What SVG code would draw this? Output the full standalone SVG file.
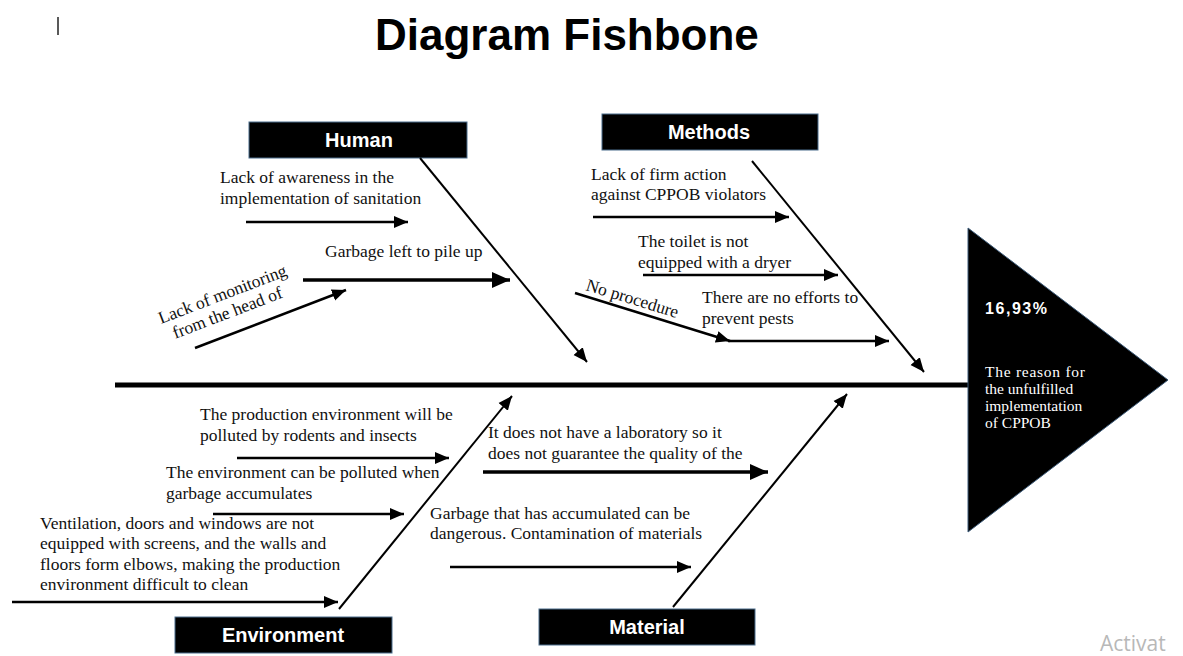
<svg xmlns="http://www.w3.org/2000/svg" width="1183" height="656" viewBox="0 0 1183 656">
<style>
.t{font-family:"Liberation Serif","Times New Roman",serif;font-size:17.5px;fill:#111}
.lbl{font-family:"Liberation Sans",Arial,sans-serif;font-weight:bold;font-size:20px;fill:#fff;text-anchor:middle}
.box{fill:#000;stroke:#4a6d8c;stroke-width:1}
.bone{stroke:#000;stroke-width:2;fill:none;marker-end:url(#ah)}
.sub{stroke:#000;stroke-width:2.5;fill:none;marker-end:url(#ah)}
.thick{stroke:#000;stroke-width:3.5;fill:none;marker-end:url(#ahb)}
.w{font-family:"Liberation Serif","Times New Roman",serif;font-size:15.5px;fill:#fff}
</style>
<defs>
<marker id="ah" markerUnits="userSpaceOnUse" markerWidth="16" markerHeight="14" refX="14" refY="7" orient="auto"><path d="M0,1 L14,7 L0,13 z" fill="#000"/></marker>
<marker id="ahb" markerUnits="userSpaceOnUse" markerWidth="20" markerHeight="18" refX="18" refY="9" orient="auto"><path d="M0,1 L18,9 L0,17 z" fill="#000"/></marker>
</defs>
<rect width="1183" height="656" fill="#fff"/>
<line x1="58" y1="17" x2="58" y2="35" stroke="#222" stroke-width="1.5"/>
<text x="375" y="50" font-family="Liberation Sans,Arial,sans-serif" font-weight="bold" font-size="44" fill="#000">Diagram Fishbone</text>

<g id="spine"><line x1="115" y1="385" x2="969" y2="385" stroke="#000" stroke-width="5"/></g>

<g id="effect">
<polygon points="968,228 1168,380 968,532" fill="#000" stroke="#3c5a78" stroke-width="1"/>
<text x="985" y="314" font-family="Liberation Sans,Arial,sans-serif" font-weight="bold" font-size="16" fill="#fff" textLength="62">16,93%</text>
<text class="w" x="985" y="377" textLength="100">The reason for</text>
<text class="w" x="985" y="394">the unfulfilled</text>
<text class="w" x="985" y="411">implementation</text>
<text class="w" x="985" y="428">of CPPOB</text>
</g>

<g id="human">
<rect class="box" x="249" y="122" width="218" height="36"/>
<text class="lbl" x="359" y="147">Human</text>
</g>
<g id="methods">
<rect class="box" x="602" y="114" width="216" height="36"/>
<text class="lbl" x="709" y="139">Methods</text>
</g>
<g id="environment">
<rect class="box" x="175" y="617" width="217" height="36"/>
<text class="lbl" x="283" y="642">Environment</text>
</g>
<g id="material">
<rect class="box" x="539" y="609" width="216" height="36"/>
<text class="lbl" x="647" y="634">Material</text>
</g>

<g id="connectors">
<line class="bone" x1="420" y1="158" x2="587" y2="362"/>
<line class="bone" x1="752" y1="161" x2="924" y2="372"/>
<line class="bone" x1="339" y1="609" x2="512" y2="396"/>
<line class="bone" x1="673" y1="607" x2="847" y2="394"/>

<line class="sub" x1="246" y1="222" x2="408" y2="222"/>
<line class="thick" x1="303" y1="280" x2="510" y2="280"/>
<line class="sub" x1="195" y1="348" x2="346" y2="290"/>

<line class="sub" x1="593" y1="217" x2="789" y2="217"/>
<line class="sub" x1="643" y1="275" x2="838" y2="275"/>
<line class="sub" x1="575" y1="293" x2="730" y2="341"/>
<line class="sub" x1="728" y1="341" x2="889" y2="341"/>

<line class="sub" x1="237" y1="458" x2="449" y2="458"/>
<line class="sub" x1="213" y1="514" x2="404" y2="514"/>
<line class="sub" x1="12" y1="602" x2="338" y2="602"/>

<line class="thick" x1="483" y1="472" x2="768" y2="472"/>
<line class="sub" x1="450" y1="567" x2="691" y2="567"/>
</g>

<g id="causes">
<text class="t" x="220" y="183">Lack of awareness in the</text>
<text class="t" x="220" y="204">implementation of sanitation</text>
<text class="t" x="325" y="257">Garbage left to pile up</text>
<g transform="translate(161,324) rotate(-21)"><text class="t" x="0" y="0">Lack of monitoring</text><text class="t" x="8" y="19">from the head of</text></g>

<text class="t" x="591" y="180">Lack of firm action</text>
<text class="t" x="591" y="200">against CPPOB violators</text>
<text class="t" x="638" y="247">The toilet is not</text>
<text class="t" x="638" y="268">equipped with a dryer</text>
<g transform="translate(585,290) rotate(17)"><text class="t" x="0" y="0">No procedure</text></g>
<text class="t" x="702" y="303">There are no efforts to</text>
<text class="t" x="702" y="324">prevent pests</text>

<text class="t" x="200" y="420">The production environment will be</text>
<text class="t" x="200" y="441">polluted by rodents and insects</text>
<text class="t" x="166" y="478">The environment can be polluted when</text>
<text class="t" x="166" y="499">garbage accumulates</text>
<text class="t" x="40" y="529">Ventilation, doors and windows are not</text>
<text class="t" x="40" y="549">equipped with screens, and the walls and</text>
<text class="t" x="40" y="570">floors form elbows, making the production</text>
<text class="t" x="40" y="590">environment difficult to clean</text>

<text class="t" x="488" y="438">It does not have a laboratory so it</text>
<text class="t" x="488" y="459">does not guarantee the quality of the</text>
<text class="t" x="430" y="519">Garbage that has accumulated can be</text>
<text class="t" x="430" y="539">dangerous. Contamination of materials</text>
</g>
<text x="1100" y="651" font-family="Open Sans,Liberation Sans,sans-serif" font-size="21" fill="#b8b8b8">Activat</text>
</svg>
